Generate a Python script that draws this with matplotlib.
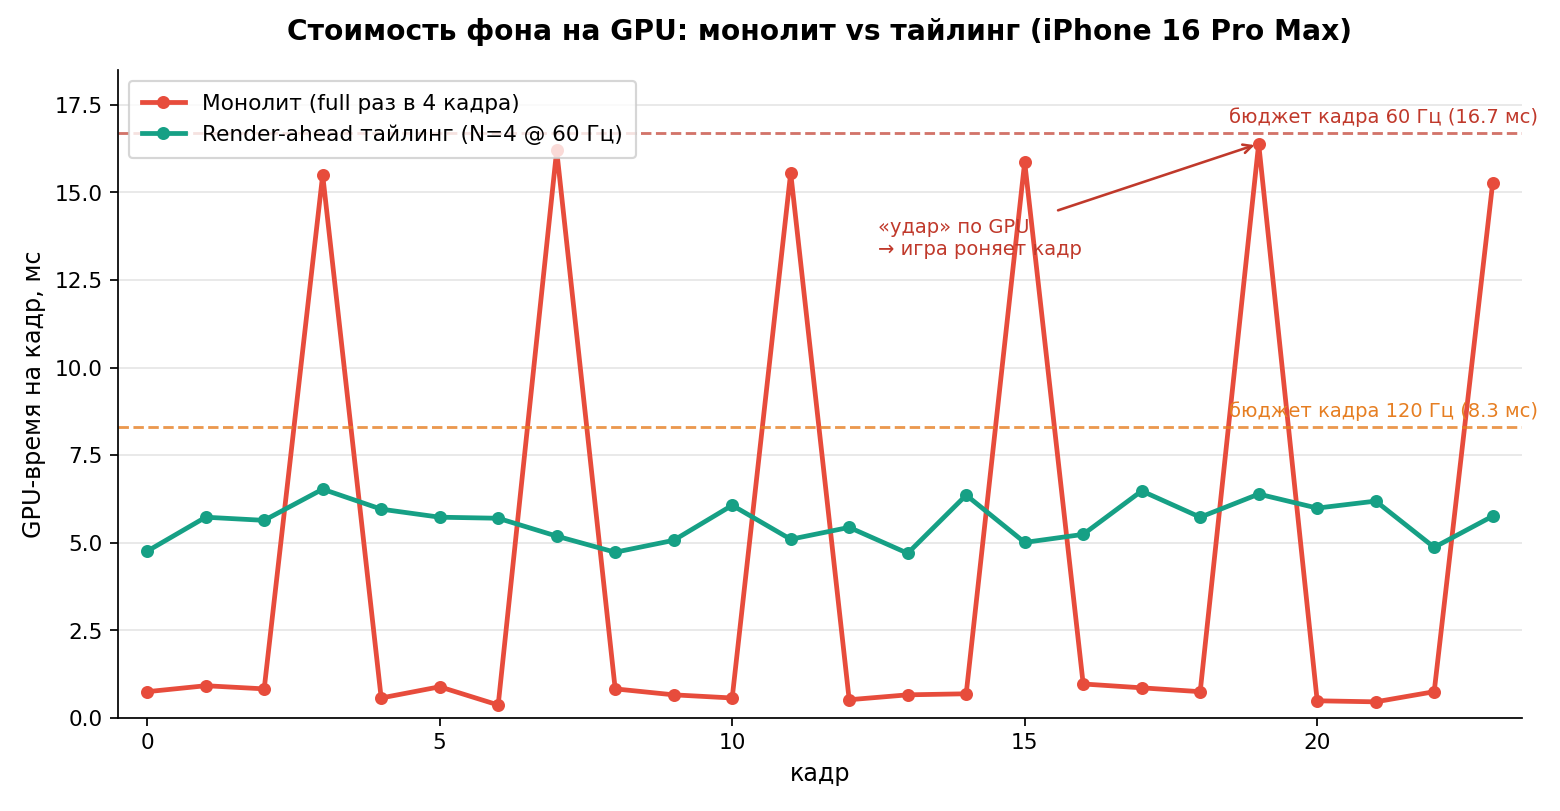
import numpy as np
import matplotlib.pyplot as plt

# кадры и GPU-время (мс)
frames = np.arange(24)
monolith = [0.75, 0.92, 0.83, 15.5, 0.57, 0.89, 0.37, 16.2,
            0.83, 0.66, 0.57, 15.56, 0.52, 0.66, 0.69, 15.87,
            0.97, 0.86, 0.75, 16.39, 0.49, 0.46, 0.75, 15.27]
tiling = [4.76, 5.73, 5.64, 6.53, 5.96, 5.73, 5.70, 5.19,
          4.73, 5.07, 6.07, 5.10, 5.44, 4.70, 6.36, 5.01,
          5.24, 6.48, 5.73, 6.39, 5.99, 6.19, 4.87, 5.76]
budget60 = 16.7
budget120 = 8.3

RED = '#e74c3c'
GREEN = '#16a085'
DARKRED = '#c0392b'
ORANGE = '#e67e22'

fig, ax = plt.subplots(figsize=(10, 5.2), dpi=156)

ax.plot(frames, monolith, '-o', color=RED, lw=2.2, ms=5, label='Монолит (full раз в 4 кадра)')
ax.plot(frames, tiling, '-o', color=GREEN, lw=2.2, ms=5, label='Render-ahead тайлинг (N=4 @ 60 Гц)')

ax.axhline(budget60, color=DARKRED, ls='--', lw=1.3, alpha=0.7)
ax.axhline(budget120, color=ORANGE, ls='--', lw=1.3, alpha=0.8)
ax.text(18.5, budget60 + 0.3, 'бюджет кадра 60 Гц (16.7 мс)', color=DARKRED, fontsize=9)
ax.text(18.5, budget120 + 0.3, 'бюджет кадра 120 Гц (8.3 мс)', color=ORANGE, fontsize=9)

ax.annotate('', xy=(19, monolith[19]), xytext=(15.5, 14.45),
            arrowprops=dict(arrowstyle='->', color=DARKRED, lw=1.2))
ax.text(12.5, 13.1, '«удар» по GPU\n→ игра роняет кадр', color=DARKRED, fontsize=9, va='bottom')

ax.set_xlim(-0.5, 23.5)
ax.set_ylim(0, 18.5)
ax.set_xticks([0, 5, 10, 15, 20])
ax.set_xlabel('кадр', fontsize=11)
ax.set_ylabel('GPU-время на кадр, мс', fontsize=11)
ax.set_title('Стоимость фона на GPU: монолит vs тайлинг (iPhone 16 Pro Max)',
             fontsize=13, fontweight='bold', pad=14)
ax.grid(axis='y', color='#e6e6e6', lw=0.8)
ax.set_axisbelow(True)
ax.spines['top'].set_visible(False)
ax.spines['right'].set_visible(False)
ax.legend(loc='upper left', fontsize=10, borderpad=0.6)

fig.subplots_adjust(left=0.0756, right=0.9756, top=0.9137, bottom=0.1147)
fig.savefig('out.png', dpi=156)
